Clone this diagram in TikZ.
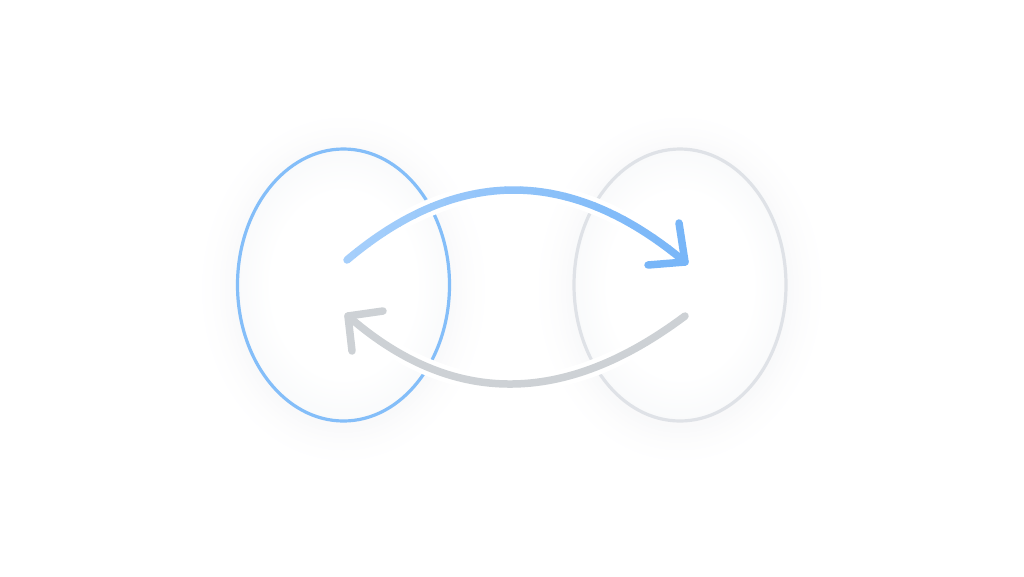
\documentclass[tikz,border=0pt]{standalone}
\usetikzlibrary{shapes.geometric}
\definecolor{bluedark}{HTML}{78B6F8}
\definecolor{bluelight}{HTML}{A6CFFB}
\definecolor{bluering}{HTML}{84BEF9}
\definecolor{grayring}{HTML}{DFE2E7}
\definecolor{grayarrow}{HTML}{CDD1D5}
\definecolor{shadowc}{HTML}{8A94A6}
\definecolor{innerc}{HTML}{F9FAFB}
\pgfdeclareradialshading{innerglow}{\pgfpoint{0bp}{0bp}}{color(0bp)=(white); color(17bp)=(white); color(25bp)=(innerc); color(50bp)=(innerc)}
\tikzset{
  ring/.style={ellipse, minimum width=212pt, minimum height=272pt, inner sep=0pt, line width=3.2pt, shade, shading=innerglow},
  halo/.style={draw=white, line width=17pt, line cap=round, line join=round},
  arrowline/.style={line width=7.5pt, line cap=round, line join=round},
}
\begin{document}
\begin{tikzpicture}[x=1pt,y=-1pt]
\fill[white] (0,0) rectangle (1024,576);
\useasboundingbox (0,0) rectangle (1024,576);
\coordinate (cL) at (343.5,285);
\coordinate (cR) at (680,285);
% soft shadows (opaque nested rings, outermost first)
\foreach \k in {18,...,1} {
  \pgfmathsetmacro\p{6*(1-\k/19)^2}
  \fill[shadowc!\p!white] (343.5,289) ellipse [x radius={106+2.5*\k}, y radius={136+2.5*\k}];
  \fill[shadowc!\p!white] (680,289) ellipse [x radius={106+2.5*\k}, y radius={136+2.5*\k}];
}
% ellipses
\node[ring, draw=bluering] (L) at (cL) {};
\node[ring, draw=grayring] (R) at (cR) {};
% arrow coordinates
\coordinate (bs) at (347,260);
\coordinate (be) at (685,262);
\coordinate (ba1) at (679,223);
\coordinate (ba2) at (648,265);
\coordinate (gs) at (685,316);
\coordinate (ge) at (348,316);
\coordinate (ga1) at (383,311);
\coordinate (ga2) at (352,351);
% halos
\draw[halo] (bs) .. controls (458.3,166) and (571,166.7) .. (be);
\draw[halo] (ba1) -- (be) -- (ba2);
\draw[halo] (gs) .. controls (564,406.7) and (451.7,406.7) .. (ge);
\draw[halo] (ga1) -- (ge) -- (ga2);
% blue arrow with gradient
\foreach \i in {0,...,23} {
  \pgfmathsetmacro\xa{340+15*\i}
  \pgfmathsetmacro\xb{\xa+15.6}
  \pgfmathtruncatemacro\p{100*\i/23}
  \begin{scope}
    \clip (\xa,0) rectangle (\xb,576);
    \draw[arrowline, draw=bluedark!\p!bluelight] (bs) .. controls (458.3,166) and (571,166.7) .. (be);
  \end{scope}
}
\draw[arrowline, draw=bluedark] (ba1) -- (be) -- (ba2);
% gray arrow
\draw[arrowline, draw=grayarrow] (gs) .. controls (564,406.7) and (451.7,406.7) .. (ge);
\draw[arrowline, draw=grayarrow] (ga1) -- (ge) -- (ga2);
\end{tikzpicture}
\end{document}
